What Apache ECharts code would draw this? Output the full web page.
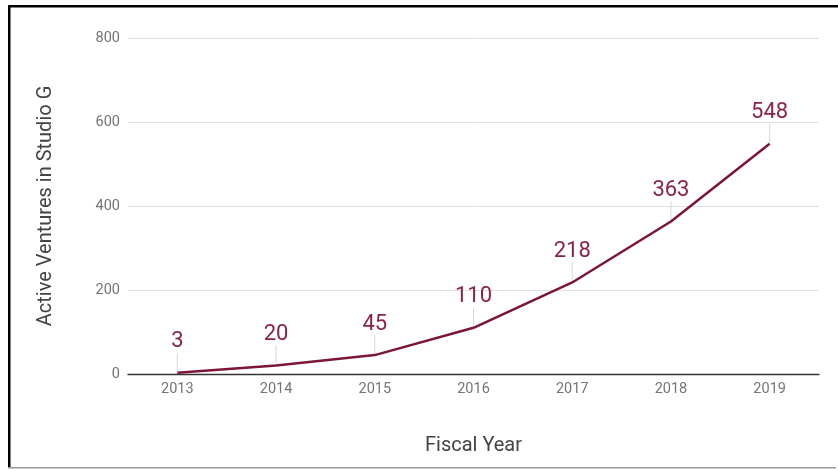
<!DOCTYPE html>
<html>
<head>
<meta charset="utf-8">
<script src="https://cdn.jsdelivr.net/npm/echarts@6/dist/echarts.min.js"></script>
<style>
html,body{margin:0;padding:0;background:#fff;}
#chart{width:838px;height:470px;}
</style>
</head>
<body>
<div id="chart"></div>
<script>
var years = ['2013', '2014', '2015', '2016', '2017', '2018', '2019'];
var ventures = [3, 20, 45, 110, 218, 363, 548];
var yTicks = [0, 200, 400, 600, 800];

var chart = echarts.init(document.getElementById('chart'), null, {renderer: 'canvas'});
var lineColor = '#7d1538';
var labelColor = '#8a2249';

chart.setOption({
  backgroundColor: '#ffffff',
  animation: false,
  grid: {left: 128, right: 19, top: 38, bottom: 96},
  xAxis: {
    type: 'category',
    data: years,
    boundaryGap: true,
    name: 'Fiscal Year',
    nameLocation: 'middle',
    nameGap: 62,
    nameTextStyle: {fontFamily: 'Roboto', fontSize: 20, color: '#444444'},
    axisLine: {lineStyle: {color: '#333333', width: 1.3}},
    axisTick: {show: false},
    axisLabel: {fontFamily: 'Roboto', fontSize: 14.5, color: '#757575', margin: 8}
  },
  yAxis: {
    type: 'value',
    min: yTicks[0],
    max: yTicks[yTicks.length - 1],
    interval: 200,
    name: 'Active Ventures in Studio G',
    nameLocation: 'middle',
    nameGap: 72,
    nameTextStyle: {fontFamily: 'Roboto', fontSize: 20, color: '#444444'},
    axisLine: {show: false},
    axisTick: {show: false},
    splitLine: {lineStyle: {color: '#e0e0e0', width: 1}},
    axisLabel: {fontFamily: 'Roboto', fontSize: 14.5, color: '#757575', margin: 8}
  },
  series: [
    {
      type: 'custom',
      data: ventures.map(function (v, i) { return [i, v]; }),
      z: 1,
      renderItem: function (params, api) {
        var p = api.coord([api.value(0), api.value(1)]);
        return {
          type: 'group',
          children: [
            {type: 'line', shape: {x1: p[0], y1: p[1] - 1, x2: p[0], y2: p[1] - 20},
             style: {stroke: '#d6d6d6', lineWidth: 1}},
            {type: 'text', x: p[0], y: p[1] - 31,
             style: {text: String(api.value(1)), fill: labelColor, font: '22px Roboto',
                     textAlign: 'center', textVerticalAlign: 'middle'}}
          ]
        };
      }
    },
    {
      type: 'line',
      data: ventures,
      z: 3,
      symbol: 'none',
      lineStyle: {color: lineColor, width: 2.5},
      itemStyle: {color: lineColor}
    }
  ],
  graphic: [
    {type: 'rect', left: 8, top: 5, shape: {width: 830, height: 2.5}, style: {fill: '#000000'}},
    {type: 'rect', left: 8, top: 5, shape: {width: 2.5, height: 463}, style: {fill: '#000000'}},
    {type: 'rect', left: 8, top: 467, shape: {width: 828, height: 1.5}, style: {fill: '#9a9a9a'}}
  ]
});
</script>
</body>
</html>
